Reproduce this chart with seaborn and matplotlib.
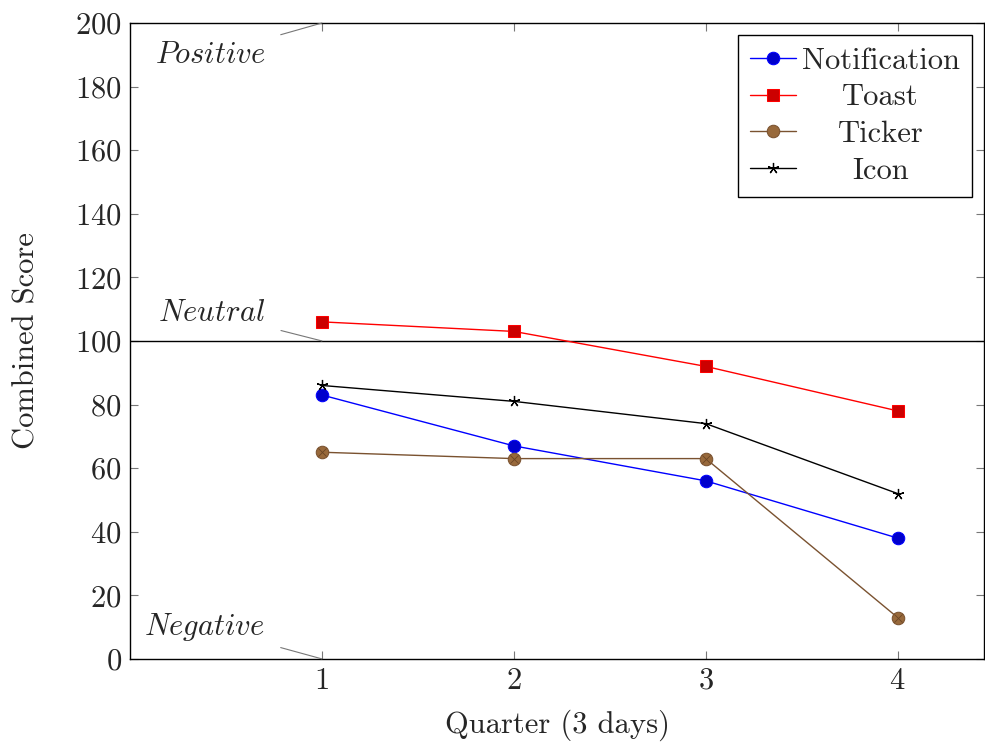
import pandas as pd
import matplotlib
matplotlib.use("Agg")
import matplotlib.pyplot as plt
import seaborn as sns

quarters = [1, 2, 3, 4]
notification = [83, 67, 56, 38]
toast = [106, 103, 92, 78]
ticker = [65, 63, 63, 13]
icon = [86, 81, 74, 52]

sns.set_style("ticks")
plt.rcParams["font.family"] = ["cmr10", "DejaVu Serif"]
plt.rcParams["mathtext.fontset"] = "cm"
plt.rcParams["axes.formatter.use_mathtext"] = True
FS = 22
plt.rcParams["font.size"] = FS

fig = plt.figure(figsize=(9.85, 7.42), dpi=100)
ax = fig.add_axes([0.132, 0.112, 0.867, 0.857])

# reference line at neutral
ax.axhline(100, color="black", lw=1.0, zorder=1)

sns.lineplot(x=quarters, y=notification, ax=ax, color="blue", lw=1.0,
             marker="o", markersize=9, markerfacecolor="#0000cc",
             markeredgecolor="blue", label="Notification")
sns.lineplot(x=quarters, y=toast, ax=ax, color="red", lw=1.0,
             marker="s", markersize=8.5, markerfacecolor="#cc0000",
             markeredgecolor="red", label="Toast")
sns.lineplot(x=quarters, y=ticker, ax=ax, color="#7a5230", lw=1.0,
             marker="o", markersize=9, markerfacecolor="#98693b",
             markeredgecolor="#7a5230", label="Ticker")
sns.lineplot(x=quarters, y=icon, ax=ax, color="black", lw=1.0,
             marker=(5, 2, 0), markersize=8, markeredgewidth=0.9,
             markeredgecolor="black", label="Icon")
# cross inside ticker markers (otimes)
ax.plot(quarters, ticker, ls="none", marker="x", markersize=6,
        markeredgecolor="#6a4525", markeredgewidth=0.6)

ax.set_xlim(0, 4.45)
ax.set_ylim(0, 200)
ax.set_xticks(quarters)
ax.set_yticks(range(0, 201, 20))
ax.tick_params(direction="in", length=6, width=0.8, color="#777777",
               top=True, right=True, labelsize=FS, pad=6)
for s in ax.spines.values():
    s.set_color("black")
    s.set_linewidth(1.0)

ax.set_xlabel("Quarter (3 days)", fontsize=FS, labelpad=11)
ax.set_ylabel("Combined Score", fontsize=FS, labelpad=25)

arrow = dict(arrowstyle="-", color="#777777", lw=0.8, shrinkA=9, shrinkB=0)
ax.annotate("$Positive$", xy=(1, 200), xytext=(0.417, 190), ha="center",
            va="center", fontsize=FS, arrowprops=arrow, annotation_clip=False)
ax.annotate("$Neutral$", xy=(1, 100), xytext=(0.427, 108.8), ha="center",
            va="center", fontsize=FS, arrowprops=arrow, annotation_clip=False)
ax.annotate("$Negative$", xy=(1, 0), xytext=(0.39, 10.1), ha="center",
            va="center", fontsize=FS, arrowprops=arrow, annotation_clip=False)

leg = ax.legend(loc="upper right", frameon=True, fancybox=False,
                edgecolor="black", framealpha=1, fontsize=FS,
                borderaxespad=0.4, handlelength=1.5, labelspacing=0.3,
                borderpad=0.4, handletextpad=0.2)
leg.get_frame().set_linewidth(1.0)

# centre the legend labels like pgfplots does
fig.canvas.draw()
r = fig.canvas.get_renderer()
widths = [t.get_window_extent(r).width for t in leg.get_texts()]
for t, w in zip(leg.get_texts(), widths):
    t.set_x((max(widths) - w) / 2)

fig.savefig("out.png", dpi=100)
